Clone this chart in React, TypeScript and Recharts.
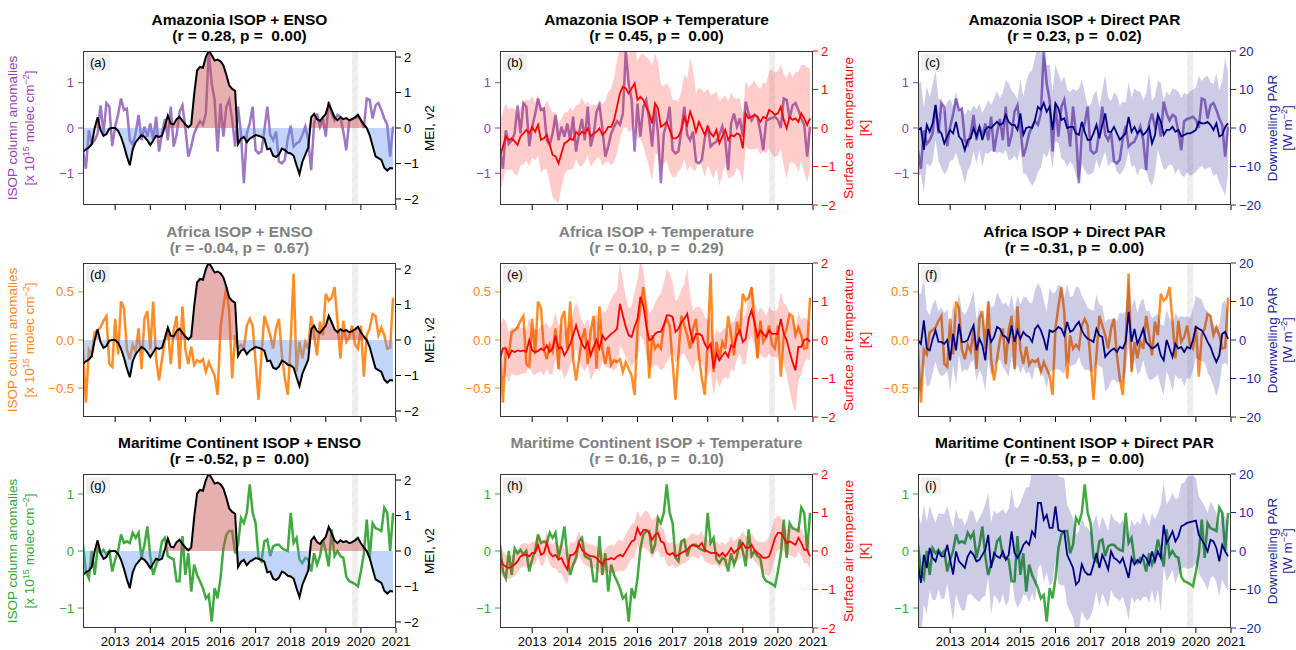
import React from 'react';
import { ComposedChart, Line, Area, XAxis, YAxis, ReferenceArea } from 'recharts';

const FONT = '"Liberation Sans", Arial, Helvetica, sans-serif';

// monthly time axis, Feb 2012 .. Dec 2020
const months = Array.from({ length: 107 }, (_, i) => 2012 + (i + 1) / 12);
const yearTicks = [2013, 2014, 2015, 2016, 2017, 2018, 2019, 2020, 2021];
const gapStart = 2019.75;
const gapEnd = 2019.92;

// Multivariate ENSO index v2
const mei = [
  -0.67, -0.6, -0.55, -0.45, 0.0, 0.3, -0.06, -0.22, -0.17, -0.02, 0.0,
  0.0, -0.08, -0.25, -0.5, -0.8, -1.05, -0.6, -0.4, -0.3, -0.2, -0.25, -0.35,
  -0.48, -0.35, -0.22, -0.25, -0.22, 0.05, 0.35, 0.12, 0.1, 0.25, 0.32, 0.2,
  0.1, 0.02, 0.1, 0.95, 1.62, 1.72, 1.7, 2.0, 2.18, 2.05, 1.9, 1.93,
  1.88, 1.76, 1.5, 1.2, 1.1, 1.05, -0.45, -0.3, -0.25, -0.4, -0.3, -0.25,
  -0.2, -0.22, -0.25, -0.3, -0.6, -0.58, -0.78, -0.82, -0.75, -0.58, -0.62, -0.7,
  -0.72, -0.78, -1.05, -1.3, -0.95, -0.75, -0.55, 0.3, 0.4, 0.25, 0.2, 0.3,
  0.4, 0.68, 0.5, 0.3, 0.22, 0.3, 0.25, 0.28, 0.22, 0.25, 0.3, 0.37,
  0.22, 0.1, 0.0, -0.2, -0.5, -0.8, -0.85, -0.9, -1.12, -1.2, -1.13, -1.14,
];

// ISOP column anomalies [1e15 molec cm-2]
const isopAmazonia = [
  -0.5, -0.9, -0.05, -0.35, -0.27, -0.12, 0.5, -0.12, 0.55, 0.47, -0.4,
  0.03, 0.3, 0.65, 0.4, 0.43, -0.27, -0.37, -0.12, 0.29, -0.27, 0.03, -0.19,
  0.1, -0.27, 0.25, -0.52, -0.12, 0.2, -0.27, 0.47, -0.41, -0.15, 0.36, 0.5,
  -0.01, -0.63, -0.41, -0.12, 0.03, 0.15, 0.07, 0.32, 1.7, 0.98, 0.62, -0.52,
  0.54, -0.19, 0.47, 0.62, 0.18, -0.41, 0.47, -0.12, -1.22, -0.12, 0.1, 0.47,
  -0.49, -0.56, -0.52, -0.05, 0.47, -0.15, -0.27, -0.08, -0.74, -0.78, -0.7, -0.23,
  0.05, -0.41, -0.34, -0.3, -0.15, 0.03, -0.27, -0.93, 0.1, 0.32, 0.03, 0.21,
  -0.19, 0.58, 0.32, 0.17, 0.29, 0.25, -0.08, -0.49, 0.15, 0.2, 0.22, 0.25,
  0.18, 0.0, 0.65, 0.62, 0.21, 0.5, 0.55, 0.4, 0.21, 0.07, -0.63, 0.03,
];
const isopAfrica = [
  -0.1, -0.65, -0.1, -0.15, 0.08, 0.1, 0.13, 0.2, 0.25, -0.25, -0.28,
  0.22, -0.15, 0.4, 0.33, -0.1, -0.2, -0.05, -0.12, 0.12, -0.3, 0.22, 0.3,
  -0.1, 0.4, -0.2, -0.42, -0.2, 0.0, 0.12, -0.25, 0.1, 0.25, -0.3, 0.35,
  -0.1, -0.25, -0.07, -0.26, -0.21, -0.23, -0.2, -0.33, -0.23, -0.3, -0.37, -0.57,
  0.12, 0.35, 0.55, 0.29, -0.4, 0.05, -0.09, -0.05, -0.09, 0.15, 0.22, 0.15,
  -0.23, -0.62, -0.16, 0.25, 0.15, 0.05, -0.09, 0.12, 0.22, -0.16, -0.4, -0.57,
  -0.02, 0.69, -0.33, -0.02, -0.19, -0.02, -0.09, 0.25, 0.05, -0.16, 0.19, 0.05,
  0.48, 0.41, 0.44, 0.55, 0.19, -0.19, 0.2, -0.02, 0.03, 0.15, -0.05, -0.09,
  0.15, -0.38, 0.05, 0.12, 0.27, 0.25, 0.05, 0.13, 0.05, -0.09, -0.08, 0.44,
];
const isopMaritime = [
  0.11, -0.36, -0.48, 0.0, -0.42, 0.05, -0.04, 0.02, -0.06, 0.0, -0.36,
  -0.15, 0.0, 0.29, 0.14, 0.17, 0.14, 0.32, 0.23, 0.32, -0.12, 0.11, 0.43,
  -0.09, -0.42, -0.24, -0.12, 0.17, 0.23, -0.09, -0.12, -0.15, -0.53, -0.53, 0.26,
  -0.42, -0.04, -0.71, -0.24, -0.42, -0.53, -0.65, -0.83, -0.77, -1.24, -0.65, -0.83,
  -0.48, 0.05, 0.29, 0.35, 0.35, -0.04, 0.11, 0.58, 0.49, 0.67, 1.17, 0.67,
  0.49, -0.12, -0.18, 0.17, 0.2, -0.09, 0.08, 0.11, 0.11, 0.05, 0.02, 0.0,
  0.67, 0.14, 0.23, -0.15, -0.21, -0.12, -0.15, -0.36, -0.04, -0.24, -0.09, 0.2,
  0.0, -0.27, 0.38, -0.09, 0.0, -0.09, -0.12, -0.45, -0.53, -0.55, -0.58, -0.62,
  -0.36, -0.05, 0.55, -0.12, 0.49, 0.4, 0.38, 0.35, 0.76, 0.67, 0.0, 0.67,
];

// surface air temperature anomaly [K] and spread of the shaded range
const tempAmazonia = [
  -0.74, -0.48, -0.22, -0.31, -0.27, -0.35, -0.44, -0.22, -0.14, -0.05, -0.14,
  0.03, -0.1, 0.08, -0.31, -0.27, -0.18, -0.44, -0.7, -0.74, -0.92, -0.66, -0.4,
  -0.35, -0.27, -0.31, -0.1, -0.18, -0.1, -0.14, -0.01, -0.22, -0.14, -0.1, -0.01,
  -0.18, -0.1, 0.03, 0.03, 0.21, 0.55, 0.9, 1.07, 1.03, 0.9, 1.03, 1.16,
  0.73, 0.81, 0.73, 0.55, 0.38, 0.12, 0.64, 0.51, 0.03, 0.08, 0.16, -0.05,
  -0.27, -0.27, -0.22, -0.05, 0.29, 0.08, 0.42, 0.21, -0.1, 0.16, -0.01, -0.18,
  0.03, -0.14, -0.22, -0.05, -0.4, -0.22, -0.05, -0.31, -0.18, -0.22, -0.14, -0.18,
  -0.53, 0.38, 0.25, 0.29, 0.34, 0.29, 0.16, 0.29, 0.25, 0.47, 0.42, 0.34,
  0.38, 0.55, 0.21, -0.01, 0.29, 0.21, 0.25, 0.16, 0.38, 0.25, 0.08, 0.25,
];
const tempSpreadAmazonia = [
  0.9, 0.9, 0.85, 0.8, 0.8, 0.85, 0.8, 0.75, 0.8, 0.8, 0.85,
  0.8, 0.75, 0.8, 0.85, 0.8, 0.9, 1.0, 1.1, 1.15, 1.05, 0.9, 0.8,
  0.75, 0.8, 0.75, 0.7, 0.8, 0.9, 0.75, 0.7, 0.8, 0.75, 0.7, 0.75,
  0.8, 0.8, 0.9, 1.0, 1.1, 1.2, 1.2, 1.1, 1.0, 1.0, 1.1, 1.0,
  1.0, 1.1, 1.2, 1.3, 1.4, 1.5, 1.3, 1.2, 1.1, 1.0, 1.0, 1.1,
  1.0, 1.0, 0.9, 1.0, 1.1, 1.2, 1.4, 1.3, 1.0, 0.9, 1.0, 1.1,
  1.0, 1.0, 1.1, 1.0, 1.1, 1.0, 0.9, 1.0, 1.1, 1.0, 0.9, 0.95,
  0.9, 0.85, 0.8, 0.85, 0.9, 0.8, 0.85, 0.9, 0.9, 1.0, 1.1, 1.1,
  1.1, 1.1, 1.2, 1.3, 1.2, 1.1, 1.2, 1.3, 1.25, 1.4, 1.5, 1.3,
];
const tempAfrica = [
  -0.48, -0.22, -0.22, -0.44, -0.27, -0.31, -0.27, -0.29, -0.27, -0.31, 0.0,
  -0.27, -0.31, -0.29, -0.22, -0.27, -0.14, -0.31, -0.22, 0.12, -0.22, -0.18, -0.4,
  -0.27, -0.1, 0.12, 0.38, 0.12, -0.1, -0.22, -0.05, -0.4, -0.18, 0.0, -0.22,
  0.12, 0.0, 0.08, 0.16, 0.21, 0.29, 0.94, 0.64, 0.34, 0.12, 0.08, 0.34,
  0.55, 1.12, 0.9, 0.38, 0.0, 0.03, 0.16, 0.21, 0.21, 0.38, 0.64, 0.64,
  0.6, 0.21, 0.29, 0.47, 0.55, 0.68, 0.25, -0.05, 0.16, 0.16, 0.12, -0.1,
  -0.22, -0.1, -0.74, -0.35, -0.53, -0.4, -0.31, -0.44, -0.14, -0.18, 0.12, 0.25,
  -0.05, 0.03, 0.55, 0.77, 0.47, 0.08, 0.25, 0.16, 0.08, 0.25, 0.16, 0.16,
  0.16, 0.55, 0.16, 0.0, -0.31, -0.57, -0.79, -0.18, -0.18, 0.0, 0.03, -0.05,
];
const tempSpreadAfrica = [
  0.85, 0.8, 0.7, 0.65, 0.6, 0.6, 0.65, 0.6, 0.6, 0.55, 0.6,
  0.6, 0.6, 0.55, 0.6, 0.65, 0.6, 0.6, 0.65, 0.6, 0.6, 0.6, 0.6,
  0.6, 0.55, 0.6, 0.6, 0.65, 0.6, 0.6, 0.6, 0.65, 0.7, 0.7, 0.6,
  0.65, 0.7, 0.8, 0.9, 1.0, 1.0, 1.1, 0.9, 0.8, 0.7, 0.8, 0.9,
  1.0, 1.0, 0.9, 0.8, 0.7, 0.75, 0.8, 0.9, 1.0, 1.1, 1.2, 1.1,
  0.9, 0.8, 0.8, 0.85, 0.9, 1.2, 0.9, 0.8, 0.7, 0.7, 0.7, 0.7,
  0.75, 0.7, 0.7, 0.65, 0.7, 0.65, 0.65, 0.6, 0.6, 0.65, 0.6, 0.6,
  0.6, 0.65, 0.6, 0.65, 0.6, 0.6, 0.6, 0.6, 0.55, 0.6, 0.6, 0.6,
  0.65, 0.7, 0.8, 0.9, 1.0, 1.1, 1.1, 0.9, 0.7, 0.6, 0.5, 0.5,
];
const tempMaritime = [
  -0.18, -0.35, -0.4, -0.44, -0.4, -0.35, -0.27, -0.14, -0.1, -0.1, -0.14,
  -0.05, -0.05, 0.16, -0.1, -0.05, 0.21, -0.05, -0.14, -0.1, -0.22, -0.18, -0.35,
  -0.48, -0.1, -0.1, -0.01, 0.21, 0.03, -0.05, -0.1, -0.14, -0.14, -0.18, -0.27,
  -0.35, -0.22, -0.22, -0.18, -0.22, -0.14, -0.1, -0.14, -0.01, 0.12, 0.25, 0.29,
  0.6, 0.42, 0.55, 0.55, 0.47, 0.29, 0.42, 0.47, 0.25, 0.21, -0.05, -0.1,
  -0.05, -0.14, -0.1, -0.05, -0.01, 0.03, 0.12, 0.16, 0.12, 0.12, 0.21, 0.03,
  -0.01, -0.05, -0.05, -0.05, -0.14, -0.05, -0.14, -0.05, 0.08, -0.05, 0.03, 0.08,
  0.21, 0.08, 0.08, 0.16, 0.03, -0.05, -0.1, -0.18, -0.18, -0.14, 0.08, 0.34,
  0.47, 0.47, 0.34, 0.21, 0.25, 0.21, 0.16, 0.34, 0.21, 0.03, 0.03, -0.14,
];
const tempSpreadMaritime = [
  0.35, 0.35, 0.3, 0.3, 0.3, 0.3, 0.3, 0.3, 0.3, 0.3, 0.3,
  0.3, 0.3, 0.3, 0.3, 0.3, 0.3, 0.3, 0.3, 0.35, 0.35, 0.4, 0.4,
  0.4, 0.35, 0.3, 0.3, 0.3, 0.3, 0.3, 0.3, 0.3, 0.3, 0.3, 0.3,
  0.3, 0.3, 0.35, 0.35, 0.35, 0.4, 0.4, 0.4, 0.45, 0.45, 0.45, 0.45,
  0.45, 0.45, 0.45, 0.5, 0.5, 0.5, 0.45, 0.45, 0.4, 0.35, 0.3, 0.3,
  0.3, 0.3, 0.3, 0.3, 0.3, 0.3, 0.3, 0.3, 0.3, 0.3, 0.3, 0.3,
  0.3, 0.3, 0.3, 0.3, 0.3, 0.3, 0.3, 0.3, 0.3, 0.3, 0.3, 0.3,
  0.3, 0.3, 0.3, 0.3, 0.3, 0.3, 0.35, 0.4, 0.45, 0.5, 0.55, 0.5,
  0.45, 0.4, 0.35, 0.35, 0.35, 0.35, 0.35, 0.35, 0.35, 0.35, 0.35, 0.35,
];

// downwelling direct PAR anomaly [W m-2] and spread of the shaded range
const parAmazonia = [
  -0.5, 0, -5.7, 0.8, -1, 1.2, 6, -0.5, -1.4, -4, -2.2,
  -0.5, -1.4, 1.6, -2.2, -3.1, -5.7, -3.1, -2.7, 0, -2.2, 0.3, -3.1,
  -0.5, 0.3, 0, 0.8, 1.6, 0.8, 1.2, 3.4, 1.6, 0.8, 0.8, -0.5,
  3.8, -1.8, 0, 0.3, 0, 2.1, 5.5, 4.7, 6.5, 4.2, 5.5, -0.5,
  6.4, 5.1, 2.1, 2.5, 0, 0.3, 0.3, -1.4, -1.8, 1.6, -1, -3.1,
  -3.1, -1.4, 0.8, -2.7, 0.8, 3.8, -1, -1, 0.3, -1.4, -3.1, -2.2,
  -1.4, 2.9, -1, 0.3, -1.4, -0.5, -1.8, -1, 0.3, -4, -1.8, 3.4,
  1.6, -1.8, -0.5, -0.5, 0.3, -1, -0.5, -2.2, -1.8, -1.4, -1.4, -1,
  -0.5, 1.6, 1.2, 1.2, 1.6, 0.8, -0.5, 1.2, -2.2, -1.8, 0.3, 1.2,
];
const parSpreadAmazonia = [
  12, 12, 11, 10, 9, 10, 9, 8, 9, 8, 9,
  8, 7, 8, 7, 8, 9, 8, 7, 6, 7, 6, 7,
  6, 7, 6, 7, 8, 7, 8, 9, 10, 9, 8, 8,
  9, 10, 12, 14, 15, 16, 17, 15, 13, 12, 11, 10,
  10, 9, 10, 11, 10, 9, 10, 11, 12, 11, 10, 9,
  9, 10, 9, 8, 9, 10, 9, 8, 9, 10, 9, 9,
  8, 9, 9, 10, 11, 10, 9, 10, 14, 11, 10, 9,
  10, 9, 10, 9, 10, 11, 10, 10, 11, 10, 11, 11,
  11, 12, 11, 12, 12, 11, 12, 13, 12, 14, 18, 13,
];
const parAfrica = [
  0, -1, 5.1, -2.2, -2.7, 0.3, 2.5, -0.5, -0.5, -1, 0,
  -5.3, 1.6, -2.7, 4.2, -0.5, -0.5, 0, 2.1, 3.8, -2.7, 0.3, -1.4,
  -5.3, 2.9, -0.5, 0.8, 3.4, 2.9, 1.2, 0.8, -0.5, 3.8, -0.5, 2.5,
  0.3, 2.1, 1.2, 0.8, -0.5, 2.9, 3.8, 2.5, 0.3, -2.7, 2.5, 2.1,
  2.5, 3.4, 2.9, 1.2, 4.7, 2.1, 2.5, 3.8, 4.7, 2.5, 1.2, 0.3,
  0, -0.5, 2.9, 1.2, 0.8, -4.4, -3.5, -2.7, -2.2, -3.1, -1.8, -2.2,
  -0.5, 7.3, -0.5, 2.9, -1, 0.8, 2.9, -0.5, -1.4, -2.2, -1.8, -1,
  -4, -5.3, 0, -2.2, -4.4, -1, -2.2, -1.8, -3.1, -1.8, -2.2, 0,
  3.4, 2.9, 2.5, 1.2, -0.5, -1.8, -4, -5.7, -4, 1.6, 2.1, 0.3,
];
const parSpreadAfrica = [
  12, 13, 11, 10, 9, 9, 8, 8, 9, 8, 8,
  8, 8, 9, 8, 8, 7, 8, 8, 9, 8, 8, 8,
  8, 8, 9, 8, 9, 8, 8, 9, 9, 8, 8, 9,
  9, 9, 10, 9, 10, 10, 11, 11, 10, 10, 11, 10,
  10, 11, 11, 10, 10, 9, 9, 10, 9, 9, 9, 8,
  8, 8, 9, 8, 8, 9, 9, 8, 8, 8, 9, 9,
  8, 9, 9, 8, 8, 9, 8, 8, 9, 8, 8, 8,
  8, 9, 8, 8, 9, 8, 8, 8, 9, 8, 8, 8,
  8, 8, 8, 7, 8, 8, 8, 9, 8, 8, 8, 7,
];
const parMaritime = [
  -3.5, -8.3, -1, -4.4, 0.8, -1.8, -2.7, -0.1, -1.4, -1.4, 1.6,
  -2.3, -6.1, -0.1, -2.7, -3.5, -4.4, -1.4, -0.1, -1, -2.7, -2.3, -1,
  0.3, 4.2, -4.4, -0.5, -1.4, -1.8, -0.1, -2.3, -1, 5.1, -0.5, -1.8,
  -0.5, 1.6, 2.5, 1.6, 5.1, 3.8, 12.5, 12.5, 8.1, 9.4, 6, 6,
  11.6, 5.5, 5.1, 5.1, -1, -2.7, -4.4, -8.7, -7.9, -3.5, -5.3, -6.1,
  -6.1, -3.5, -0.5, -4.4, -1, -2.7, -4.8, -0.1, -1.8, -2.3, -3.1, -1.8,
  -4.4, -7, -1.8, -3.5, -2.3, -3.1, -1, -1.8, -3.5, -0.1, -2.7, -0.1,
  -1.8, 6.8, 2.1, 3.4, 5.1, 2.5, 3.8, 6.4, 6.8, 7.3, 7.5, 7.7,
  7.9, 4.2, 2.9, 1.6, -0.1, 2.9, 2.5, 0.8, -2.7, 1.6, -0.1, -1.4,
];
const parSpreadMaritime = [
  14, 15, 13, 12, 11, 11, 10, 10, 11, 11, 10,
  11, 12, 11, 11, 12, 11, 10, 11, 11, 10, 11, 11,
  12, 11, 12, 11, 11, 12, 11, 12, 12, 11, 12, 13,
  13, 13, 14, 15, 16, 17, 17, 16, 16, 15, 15, 14,
  14, 14, 14, 14, 13, 13, 13, 13, 13, 12, 12, 12,
  11, 11, 10, 10, 10, 10, 10, 10, 10, 10, 10, 10,
  10, 11, 10, 10, 10, 10, 11, 10, 10, 10, 11, 10,
  14, 11, 10, 10, 10, 11, 10, 11, 11, 12, 12, 12,
  11, 10, 10, 10, 10, 10, 9, 9, 9, 9, 9, 9,
];

const titlesEnso = ['Amazonia ISOP + ENSO', 'Africa ISOP + ENSO', 'Maritime Continent ISOP + ENSO'];
const titlesTemp = ['Amazonia ISOP + Temperature', 'Africa ISOP + Temperature', 'Maritime Continent ISOP + Temperature'];
const titlesPar = ['Amazonia ISOP + Direct PAR', 'Africa ISOP + Direct PAR', 'Maritime Continent ISOP + Direct PAR'];
const statsEnso = ['(r = 0.28, p =  0.00)', '(r = -0.04, p =  0.67)', '(r = -0.52, p =  0.00)'];
const statsTemp = ['(r = 0.45, p =  0.00)', '(r = 0.10, p =  0.29)', '(r = 0.16, p =  0.10)'];
const statsPar = ['(r = 0.23, p =  0.02)', '(r = -0.31, p =  0.00)', '(r = -0.53, p =  0.00)'];
const significantEnso = [true, false, true];
const significantTemp = [true, false, false];
const significantPar = [true, true, true];

const regions = [
  { isop: isopAmazonia, line: '#9467bd', text: '#9a3db4', domain: [-1.7, 1.7], ticks: [-1, 0, 1], dec: 0,
    temp: tempAmazonia, tempSpread: tempSpreadAmazonia, par: parAmazonia, parSpread: parSpreadAmazonia },
  { isop: isopAfrica, line: '#ff7f0e', text: '#ff8515', domain: [-0.8, 0.8], ticks: [-0.5, 0, 0.5], dec: 1,
    temp: tempAfrica, tempSpread: tempSpreadAfrica, par: parAfrica, parSpread: parSpreadAfrica },
  { isop: isopMaritime, line: '#2ca02c', text: '#2fa82f', domain: [-1.35, 1.35], ticks: [-1, 0, 1], dec: 0,
    temp: tempMaritime, tempSpread: tempSpreadMaritime, par: parMaritime, parSpread: parSpreadMaritime },
];

const NAVY = '#000080';
const NAVY_TEXT = '#24249a';
const RED = '#ff0000';

const rightAxes: any = {
  enso: { domain: [-2.17, 2.17], ticks: [-2, -1, 0, 1, 2], color: '#000', labelOffsets: [34] },
  temp: { domain: [-2, 2], ticks: [-2, -1, 0, 1, 2], color: RED, labelOffsets: [36, 52] },
  par: { domain: [-20, 20], ticks: [-20, -10, 0, 10, 20], color: NAVY_TEXT, labelOffsets: [42, 57] },
};

const colX = [83, 500, 918];
const rowY = [51, 263, 474];
const PLOT_W = 313;
const PLOT_H = 154;
const AX_L = 45;
const AX_R = 45;
const TOP = 12;
const XH = 26;

const fmt = (v: number, dec: number) => (v < 0 ? '\u2212' : '') + Math.abs(v).toFixed(dec);

const VLabel = ({ cx, cy, color, children }: any) => (
  <div
    style={{
      position: 'absolute', left: cx, top: cy, transform: 'translate(-50%, -50%) rotate(-90deg)',
      whiteSpace: 'nowrap', color, fontSize: 13.5, fontFamily: FONT, lineHeight: '14px',
    }}
  >
    {children}
  </div>
);

const sup = (s: string) => <sup style={{ fontSize: 9, lineHeight: 0, verticalAlign: 'super' }}>{s}</sup>;

const Panel = ({ row, col, kind, letter, title, stats, significant }: any) => {
  const reg = regions[row];
  const x = colX[col];
  const y = rowY[row];
  const ax = rightAxes[kind];

  const data = months.map((t, i) => {
    const d: any = { t, isop: reg.isop[i] };
    if (kind === 'enso') {
      d.mean = mei[i];
      d.pos = [0, Math.max(mei[i], 0)];
      d.neg = [Math.min(mei[i], 0), 0];
    } else {
      const m = kind === 'temp' ? reg.temp[i] : reg.par[i];
      const s = kind === 'temp' ? reg.tempSpread[i] : reg.parSpread[i];
      d.mean = m;
      d.band = [m - s, m + s];
    }
    return d;
  });

  const cy = y + PLOT_H / 2;
  const right = x + PLOT_W;

  return (
    <>
      <div
        style={{
          position: 'absolute', left: x - 20, top: y - 39, width: PLOT_W + 40, textAlign: 'center',
          fontFamily: FONT, fontWeight: 'bold', fontSize: 15.5, lineHeight: '15.5px',
          color: significant ? '#000' : '#808080', whiteSpace: 'pre',
        }}
      >
        <div>{title}</div>
        <div>{stats}</div>
      </div>

      <div style={{ position: 'absolute', left: x - AX_L, top: y - TOP }}>
        <ComposedChart
          width={AX_L + PLOT_W + AX_R}
          height={TOP + PLOT_H + XH}
          data={data}
          margin={{ top: TOP, right: 0, bottom: 0, left: 0 }}
        >
          <XAxis
            dataKey="t" type="number" domain={[2012 + 1 / 12, 2021]} ticks={yearTicks} allowDataOverflow
            interval={0} height={XH} axisLine={false} tickSize={5} tickMargin={4}
            tickLine={{ stroke: '#000' }}
            tick={{ fill: '#000', fontSize: 13, fontFamily: FONT }}
            tickFormatter={(v: number) => (row === 2 ? String(v) : '')}
          />
          <YAxis
            yAxisId="l" orientation="left" width={AX_L} type="number" domain={reg.domain} ticks={reg.ticks}
            allowDataOverflow interval={0} axisLine={false} tickSize={5} tickMargin={4}
            tickLine={{ stroke: reg.text }}
            tick={{ fill: reg.text, fontSize: 13, fontFamily: FONT }}
            tickFormatter={(v: number) => fmt(v, reg.dec)}
          />
          <YAxis
            yAxisId="r" orientation="right" width={AX_R} type="number" domain={ax.domain} ticks={ax.ticks}
            allowDataOverflow interval={0} axisLine={false} tickSize={5} tickMargin={3}
            tickLine={{ stroke: ax.color }}
            tick={{ fill: ax.color, fontSize: 13, fontFamily: FONT, textAnchor: 'start' }}
            tickFormatter={(v: number) => fmt(v, 0)}
          />
          <ReferenceArea yAxisId="l" x1={gapStart} x2={gapEnd} fill="#e4e4e4" fillOpacity={0.6} stroke="none" />
          <ReferenceArea yAxisId="l" x1={gapStart} x2={gapEnd} fill="url(#gapHatch)" stroke="none" />
          <Area
            yAxisId="l" type="linear" dataKey="isop" stroke={reg.line} strokeOpacity={0.9} strokeWidth={2.5}
            fill="none" dot={false} activeDot={false} isAnimationActive={false}
          />
          {kind === 'enso' && (
            <Area
              yAxisId="r" type="linear" dataKey="pos" stroke="none" fill="#c85050" fillOpacity={0.45}
              dot={false} activeDot={false} isAnimationActive={false}
            />
          )}
          {kind === 'enso' && (
            <Area
              yAxisId="r" type="linear" dataKey="neg" stroke="none" fill="#6495ed" fillOpacity={0.4}
              dot={false} activeDot={false} isAnimationActive={false}
            />
          )}
          {kind !== 'enso' && (
            <Area
              yAxisId="r" type="linear" dataKey="band" stroke="none"
              fill={kind === 'temp' ? RED : NAVY} fillOpacity={0.2}
              dot={false} activeDot={false} isAnimationActive={false}
            />
          )}
          <Line
            yAxisId="r" type="linear" dataKey="mean"
            stroke={kind === 'enso' ? '#000' : kind === 'temp' ? RED : NAVY}
            strokeWidth={kind === 'enso' ? 2 : 1.8} dot={false} activeDot={false} isAnimationActive={false}
          />
        </ComposedChart>
      </div>

      <div
        style={{
          position: 'absolute', left: x, top: y, width: PLOT_W, height: PLOT_H,
          border: '1px solid #333', boxSizing: 'border-box', pointerEvents: 'none',
        }}
      />
      <div
        style={{
          position: 'absolute', left: x + 3, top: y + 3, background: '#f0f0f0', padding: '0 4px',
          fontFamily: FONT, fontSize: 13, lineHeight: '17px', color: '#000',
        }}
      >
        {letter}
      </div>

      {col === 0 && (
        <>
          <VLabel cx={x - 70} cy={cy} color={reg.text}>ISOP column anomalies</VLabel>
          <VLabel cx={x - 53} cy={cy} color={reg.text}>
            [x 10{sup('15')} molec cm{sup('\u22122')}]
          </VLabel>
        </>
      )}
      {kind === 'enso' && <VLabel cx={right + ax.labelOffsets[0]} cy={cy} color="#000">MEI, v2</VLabel>}
      {kind === 'temp' && (
        <>
          <VLabel cx={right + ax.labelOffsets[0]} cy={cy} color={RED}>Surface air temperature</VLabel>
          <VLabel cx={right + ax.labelOffsets[1]} cy={cy} color={RED}>[K]</VLabel>
        </>
      )}
      {kind === 'par' && (
        <>
          <VLabel cx={right + ax.labelOffsets[0]} cy={cy} color={NAVY_TEXT}>Downwelling PAR</VLabel>
          <VLabel cx={right + ax.labelOffsets[1]} cy={cy} color={NAVY_TEXT}>
            [W m{sup('\u22122')}]
          </VLabel>
        </>
      )}
    </>
  );
};

const letters = [['(a)', '(b)', '(c)'], ['(d)', '(e)', '(f)'], ['(g)', '(h)', '(i)']];

export default function App() {
  return (
    <div style={{ position: 'absolute', left: 0, top: 0, width: 1296, height: 650, background: '#fff', overflow: 'hidden' }}>
      <svg width={0} height={0} style={{ position: 'absolute' }}>
        <defs>
          <pattern id="gapHatch" width={7} height={7} patternUnits="userSpaceOnUse" patternTransform="rotate(45)">
            <line x1={0} y1={0} x2={0} y2={7} stroke="#cfcfcf" strokeWidth={1} />
          </pattern>
        </defs>
      </svg>
      {[0, 1, 2].map((row) => (
        <React.Fragment key={row}>
          <Panel row={row} col={0} kind="enso" letter={letters[row][0]} title={titlesEnso[row]} stats={statsEnso[row]} significant={significantEnso[row]} />
          <Panel row={row} col={1} kind="temp" letter={letters[row][1]} title={titlesTemp[row]} stats={statsTemp[row]} significant={significantTemp[row]} />
          <Panel row={row} col={2} kind="par" letter={letters[row][2]} title={titlesPar[row]} stats={statsPar[row]} significant={significantPar[row]} />
        </React.Fragment>
      ))}
    </div>
  );
}
